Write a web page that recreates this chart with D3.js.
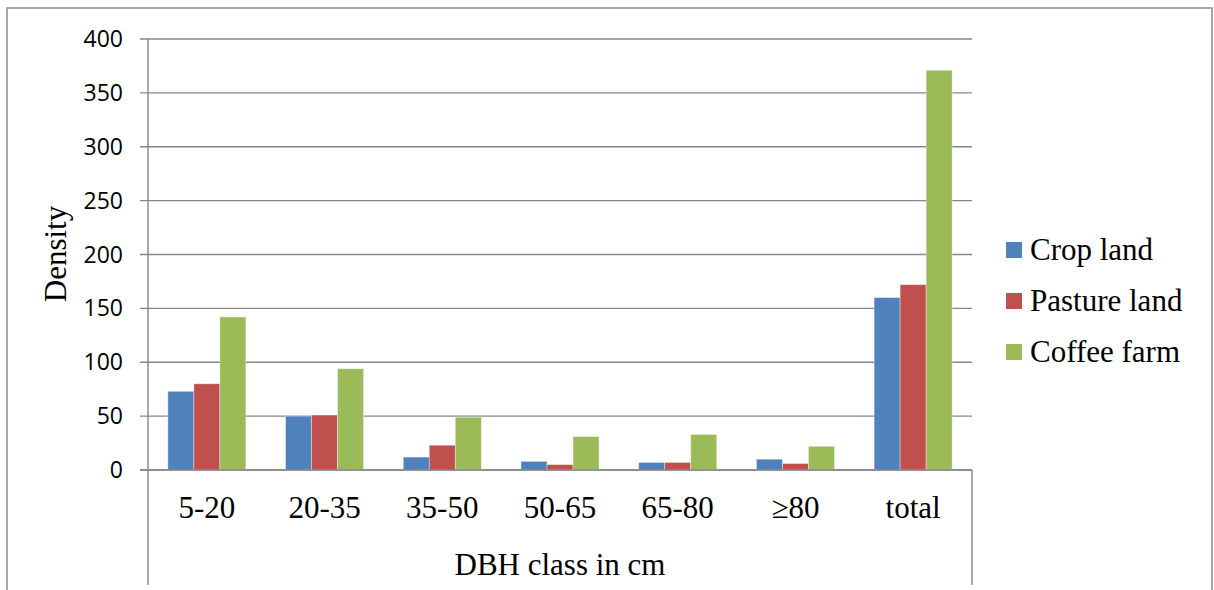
<!doctype html>
<html>
<head>
<script src="https://d3js.org/d3.v7.min.js"></script>
<style>
  body { margin: 0; background: #fff; }
</style>
</head>
<body>
<svg width="1214" height="590" id="chart"></svg>
<script>
// data
var categories = ["5-20", "20-35", "35-50", "50-65", "65-80", "\u226580", "total"];
var seriesNames = ["Crop land", "Pasture land", "Coffee farm"];
var cropLand    = [73, 50, 12, 8, 7, 10, 160];
var pastureLand = [80, 51, 23, 5, 7, 6, 172];
var coffeeFarm  = [142, 94, 49, 31, 33, 22, 371];
var yTicks = [0, 50, 100, 150, 200, 250, 300, 350, 400];
var colors = ["#4F81BD", "#C0504D", "#9BBB59"];

var seriesValues = [cropLand, pastureLand, coffeeFarm];

var svg = d3.select("#chart"),
    plotLeft = 148, plotRight = 972, plotTop = 39, plotBottom = 470;

var serif = "'Liberation Serif', 'Times New Roman', serif";

// outer border of the chart area
svg.append("rect")
  .attr("x", 7).attr("y", 8)
  .attr("width", 1205).attr("height", 620)
  .attr("fill", "none")
  .attr("stroke", "#8a8a8a")
  .attr("stroke-width", 1.5);

var x0 = d3.scaleBand().domain(categories).range([plotLeft, plotRight])
  .paddingInner(0.337).paddingOuter(0.1685);
var x1 = d3.scaleBand().domain(seriesNames).range([0, x0.bandwidth()]);
var y = d3.scaleLinear().domain([0, 400]).range([plotBottom, plotTop]);

// gridlines + ticks
svg.append("g").selectAll("line")
  .data(yTicks)
  .enter().append("line")
  .attr("x1", 140).attr("x2", plotRight)
  .attr("y1", function (d) { return y(d); })
  .attr("y2", function (d) { return y(d); })
  .attr("stroke", "#878787")
  .attr("stroke-width", 1.4);

// tick labels
svg.append("g").selectAll("text")
  .data(yTicks)
  .enter().append("text")
  .attr("x", 123)
  .attr("y", function (d) { return y(d); })
  .attr("dy", "0.35em")
  .attr("text-anchor", "end")
  .style("font-family", "'Open Sans', 'Noto Sans', sans-serif")
  .style("font-size", "23px")
  .attr("fill", "#000")
  .text(function (d) { return d; });

// bars
var groups = svg.append("g").selectAll("g")
  .data(categories)
  .enter().append("g")
  .attr("transform", function (d) { return "translate(" + x0(d) + ",0)"; });

groups.selectAll("rect")
  .data(function (d, i) {
    return seriesNames.map(function (s, j) { return { name: s, value: seriesValues[j][i], k: j }; });
  })
  .enter().append("rect")
  .attr("x", function (d) { return x1(d.name); })
  .attr("y", function (d) { return y(d.value); })
  .attr("width", x1.bandwidth())
  .attr("height", function (d) { return y(0) - y(d.value); })
  .attr("fill", function (d) { return colors[d.k]; })
  .attr("stroke", "rgba(255,255,255,0.45)")
  .attr("stroke-width", 0.8);

// axis lines
svg.append("line")
  .attr("x1", plotLeft).attr("x2", plotLeft).attr("y1", plotTop).attr("y2", 585)
  .attr("stroke", "#878787").attr("stroke-width", 1.4);
svg.append("line")
  .attr("x1", plotRight).attr("x2", plotRight).attr("y1", plotBottom).attr("y2", 585)
  .attr("stroke", "#878787").attr("stroke-width", 1.4);
svg.append("line")
  .attr("x1", 140).attr("x2", plotRight).attr("y1", plotBottom).attr("y2", plotBottom)
  .attr("stroke", "#878787").attr("stroke-width", 1.4);

// category labels
svg.append("g").selectAll("text")
  .data(categories)
  .enter().append("text")
  .attr("x", function (d) { return x0(d) + x0.bandwidth() / 2; })
  .attr("y", 518)
  .attr("text-anchor", "middle")
  .style("font-family", serif)
  .style("font-size", "31px")
  .text(function (d) { return d; });

// axis titles
svg.append("text")
  .attr("x", (plotLeft + plotRight) / 2)
  .attr("y", 575)
  .attr("text-anchor", "middle")
  .style("font-family", serif)
  .style("font-size", "31px")
  .text("DBH class in cm");

svg.append("text")
  .attr("transform", "translate(66,254)rotate(-90)")
  .attr("text-anchor", "middle")
  .style("font-family", serif)
  .style("font-size", "31px")
  .text("Density");

// legend
var legend = svg.append("g").selectAll("g")
  .data(seriesNames)
  .enter().append("g")
  .attr("transform", function (d, i) { return "translate(1006," + (242 + i * 51) + ")"; });

legend.append("rect")
  .attr("width", 16).attr("height", 16)
  .attr("fill", function (d, i) { return colors[i]; });

legend.append("text")
  .attr("x", 24)
  .attr("y", 18)
  .style("font-family", serif)
  .style("font-size", "31px")
  .text(function (d) { return d; });
</script>
</body>
</html>
